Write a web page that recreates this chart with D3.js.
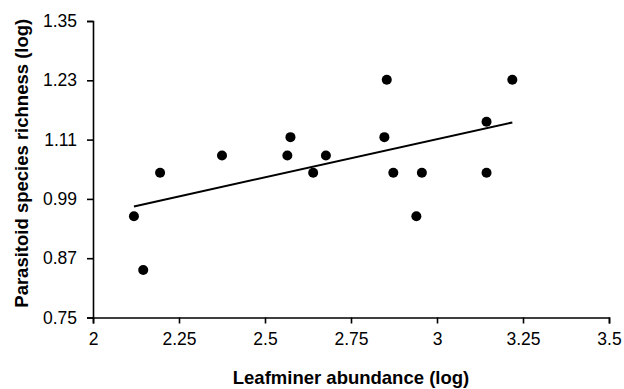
<!DOCTYPE html>
<html>
<head>
<meta charset="utf-8">
<script src="https://cdn.jsdelivr.net/npm/d3@7"></script>
<style>
  body { margin: 0; background: #fff; }
  text { font-family: "Liberation Sans", Arial, sans-serif; fill: #000; }
</style>
</head>
<body>
<div id="chart"></div>
<script>
// leafminer abundance (log) vs parasitoid species richness (log)
const abundance = [2.119, 2.146, 2.195, 2.375, 2.565, 2.574, 2.640, 2.677,
                   2.847, 2.854, 2.873, 2.940, 2.956, 3.144, 3.144, 3.219];
const richness  = [0.955, 0.846, 1.043, 1.078, 1.078, 1.115, 1.043, 1.078,
                   1.115, 1.231, 1.043, 0.955, 1.043, 1.146, 1.043, 1.231];
const xTicks = [2, 2.25, 2.5, 2.75, 3, 3.25, 3.5];
const yTicks = [0.75, 0.87, 0.99, 1.11, 1.23, 1.35];

const W = 624, H = 389;
const margin = {top: 21, right: 15, bottom: 71.5, left: 93};
const width = W - margin.left - margin.right,
      height = H - margin.top - margin.bottom;

const svg = d3.select("#chart")
    .append("svg")
    .attr("width", W)
    .attr("height", H)
    .append("g")
    .attr("transform", `translate(${margin.left}, ${margin.top})`);

let x = d3.scaleLinear().domain([2, 3.5]).range([0, width]);
let y = d3.scaleLinear().domain([0.75, 1.35]).range([height, 0]);

// axes
const xAxis = svg.append("g")
    .attr("transform", `translate(0, ${height})`)
    .call(d3.axisBottom(x).tickValues(xTicks).tickSize(6).tickPadding(9)
        .tickFormat(d => d3.format("")(d)));

const yAxis = svg.append("g")
    .call(d3.axisLeft(y).tickValues(yTicks).tickSize(6).tickPadding(10)
        .tickFormat(d3.format(".2f")));

[xAxis, yAxis].forEach(g => {
    g.select(".domain").attr("stroke", "#000").attr("stroke-width", 1.6);
    g.selectAll(".tick line").attr("stroke", "#000").attr("stroke-width", 1.6);
    g.selectAll(".tick text")
        .attr("font-family", "Liberation Sans, Arial, sans-serif")
        .attr("font-size", 17.5)
        .attr("fill", "#000");
});

// linear regression trend line
const pts = abundance.map((a, i) => [a, richness[i]]);
const mx = d3.mean(abundance), my = d3.mean(richness);
const slope = d3.sum(pts, p => (p[0] - mx) * (p[1] - my)) / d3.sum(pts, p => (p[0] - mx) ** 2);
const icpt = my - slope * mx;
const ends = d3.extent(abundance);

svg.append("line")
    .attr("x1", x(ends[0])).attr("y1", y(icpt + slope * ends[0]))
    .attr("x2", x(ends[1])).attr("y2", y(icpt + slope * ends[1]))
    .attr("stroke", "#000")
    .attr("stroke-width", 2);

svg.selectAll("circle")
    .data(pts)
    .enter()
    .append("circle")
        .attr("cx", d => x(d[0]))
        .attr("cy", d => y(d[1]))
        .attr("r", 5)
        .style("fill", "#000");

// axis titles
svg.append("text")
    .attr("x", width / 2)
    .attr("y", height + 66.5)
    .attr("text-anchor", "middle")
    .attr("font-weight", "bold")
    .attr("font-size", 18.5)
    .text("Leafminer abundance (log)");

svg.append("text")
    .attr("transform", `translate(${-65}, ${height / 2 - 6}) rotate(-90)`)
    .attr("text-anchor", "middle")
    .attr("font-weight", "bold")
    .attr("font-size", 18.5)
    .text("Parasitoid species richness (log)");
</script>
</body>
</html>
